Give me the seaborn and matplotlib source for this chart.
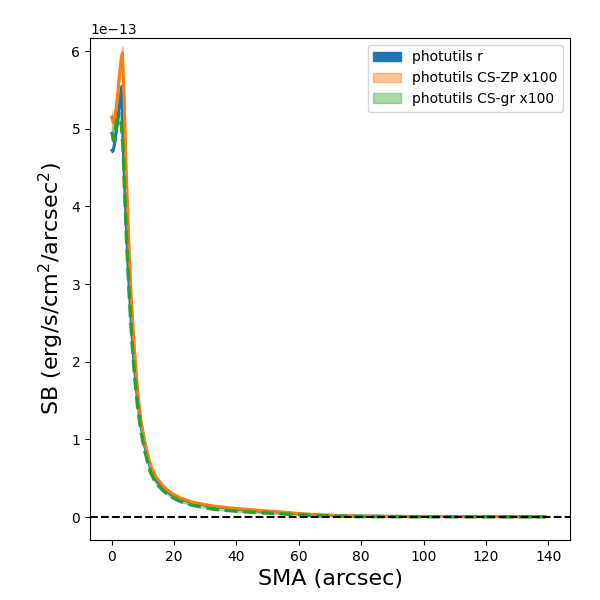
import numpy as np
import matplotlib
matplotlib.use("Agg")
import matplotlib.pyplot as plt
import seaborn as sns

# SMA (arcsec) and surface brightness profiles (units of 1e-13 erg/s/cm^2/arcsec^2)
sma_r = [0, 0.5, 1, 1.5, 2, 2.5, 3.1, 3.6, 4.0, 4.7, 5.4, 6.1, 6.6, 7.4, 8.2, 9.3, 10.3,
         11.4, 12.5, 14.1, 16.7, 19, 22, 26, 32.7, 40, 46, 53, 60, 66, 72, 80, 90, 100, 110,
         120, 130, 139]
sb_r = [4.72, 4.74, 4.84, 5.0, 5.15, 5.33, 5.54, 4.77, 4.35, 3.66, 3.05, 2.58, 2.25, 1.85, 1.5,
        1.18, 0.96, 0.77, 0.61, 0.48, 0.36, 0.29, 0.23, 0.18, 0.13, 0.10, 0.08, 0.065, 0.042,
        0.028, 0.02, 0.013, 0.009, 0.007, 0.006, 0.005, 0.004, 0.004]

sma_zp = [0, 0.5, 1, 1.5, 2, 2.5, 3.0, 3.4, 3.95, 4.5, 5.3, 6.0, 7.0, 8.2, 9.3, 10.3, 11.4,
          12.5, 14.1, 16.7, 19, 22, 26, 32.7, 40, 46, 53, 60, 66, 72, 80, 90, 100, 110, 120,
          130, 139]
sb_zp = [5.15, 5.07, 5.15, 5.3, 5.5, 5.72, 5.9, 5.97, 5.41, 4.56, 3.7, 3.0, 2.3, 1.65, 1.25,
         1.02, 0.82, 0.66, 0.52, 0.39, 0.31, 0.245, 0.19, 0.14, 0.11, 0.09, 0.07, 0.045,
         0.03, 0.02, 0.012, 0.009, 0.007, 0.006, 0.005, 0.004, 0.004]

sma_gr = [0, 0.5, 1, 1.5, 2, 2.5, 3.0, 3.7, 4.0, 4.7, 5.4, 6.1, 6.6, 7.4, 8.2, 9.3, 10.3, 11.4,
          12.5, 14.1, 16.7, 19, 22, 26, 32.7, 40, 46, 53, 60, 66, 72, 80, 90, 100, 110, 120,
          130, 139]
sb_gr = [4.96, 4.85, 4.9, 5.11, 5.14, 5.14, 5.1, 4.7, 4.3, 3.6, 3.0, 2.5, 2.18, 1.78, 1.45,
         1.12, 0.9, 0.72, 0.57, 0.44, 0.33, 0.26, 0.2, 0.15, 0.10, 0.075, 0.06, 0.045,
         0.028, 0.017, 0.01, 0.006, 0.004, 0.003, 0.003, 0.003, 0.003, 0.003]

scale = 1e-13
x_r, y_r = np.array(sma_r), np.array(sb_r) * scale
x_zp, y_zp = np.array(sma_zp), np.array(sb_zp) * scale
x_gr, y_gr = np.array(sma_gr), np.array(sb_gr) * scale

fig = plt.figure(figsize=(6, 6), dpi=100)
ax = fig.add_axes([0.15, 0.1, 0.80, 0.837])

# uncertainty bands (legend handles)
ax.fill_between(x_r, y_r * 0.995, y_r * 1.005, color="#1f77b4", alpha=1.0, label="photutils r")
ax.fill_between(x_zp, y_zp * 0.985, y_zp * 1.015, color="#ff7f0e", alpha=0.45, label="photutils CS-ZP x100")
ax.fill_between(x_gr, y_gr * 0.985, y_gr * 1.015, color="#2ca02c", alpha=0.4, label="photutils CS-gr x100")

sns.lineplot(x=x_r, y=y_r, ax=ax, color="#1f77b4", lw=2, sort=False)
sns.lineplot(x=x_zp, y=y_zp, ax=ax, color="#ff7f0e", lw=2.2, sort=False)
sns.lineplot(x=x_gr, y=y_gr, ax=ax, color="#2ca02c", lw=2.5, ls="--", sort=False)

ax.axhline(0, color="k", ls="--", lw=1.5)

ax.set_xlim(-7, 147)
ax.set_ylim(-0.296e-13, 6.17e-13)
ax.set_xlabel("SMA (arcsec)", fontsize=16)
ax.set_ylabel("SB (erg/s/cm$^2$/arcsec$^2$)", fontsize=16)
ax.legend(loc="upper right", fontsize=10)

fig.savefig("out.png", dpi=100)
